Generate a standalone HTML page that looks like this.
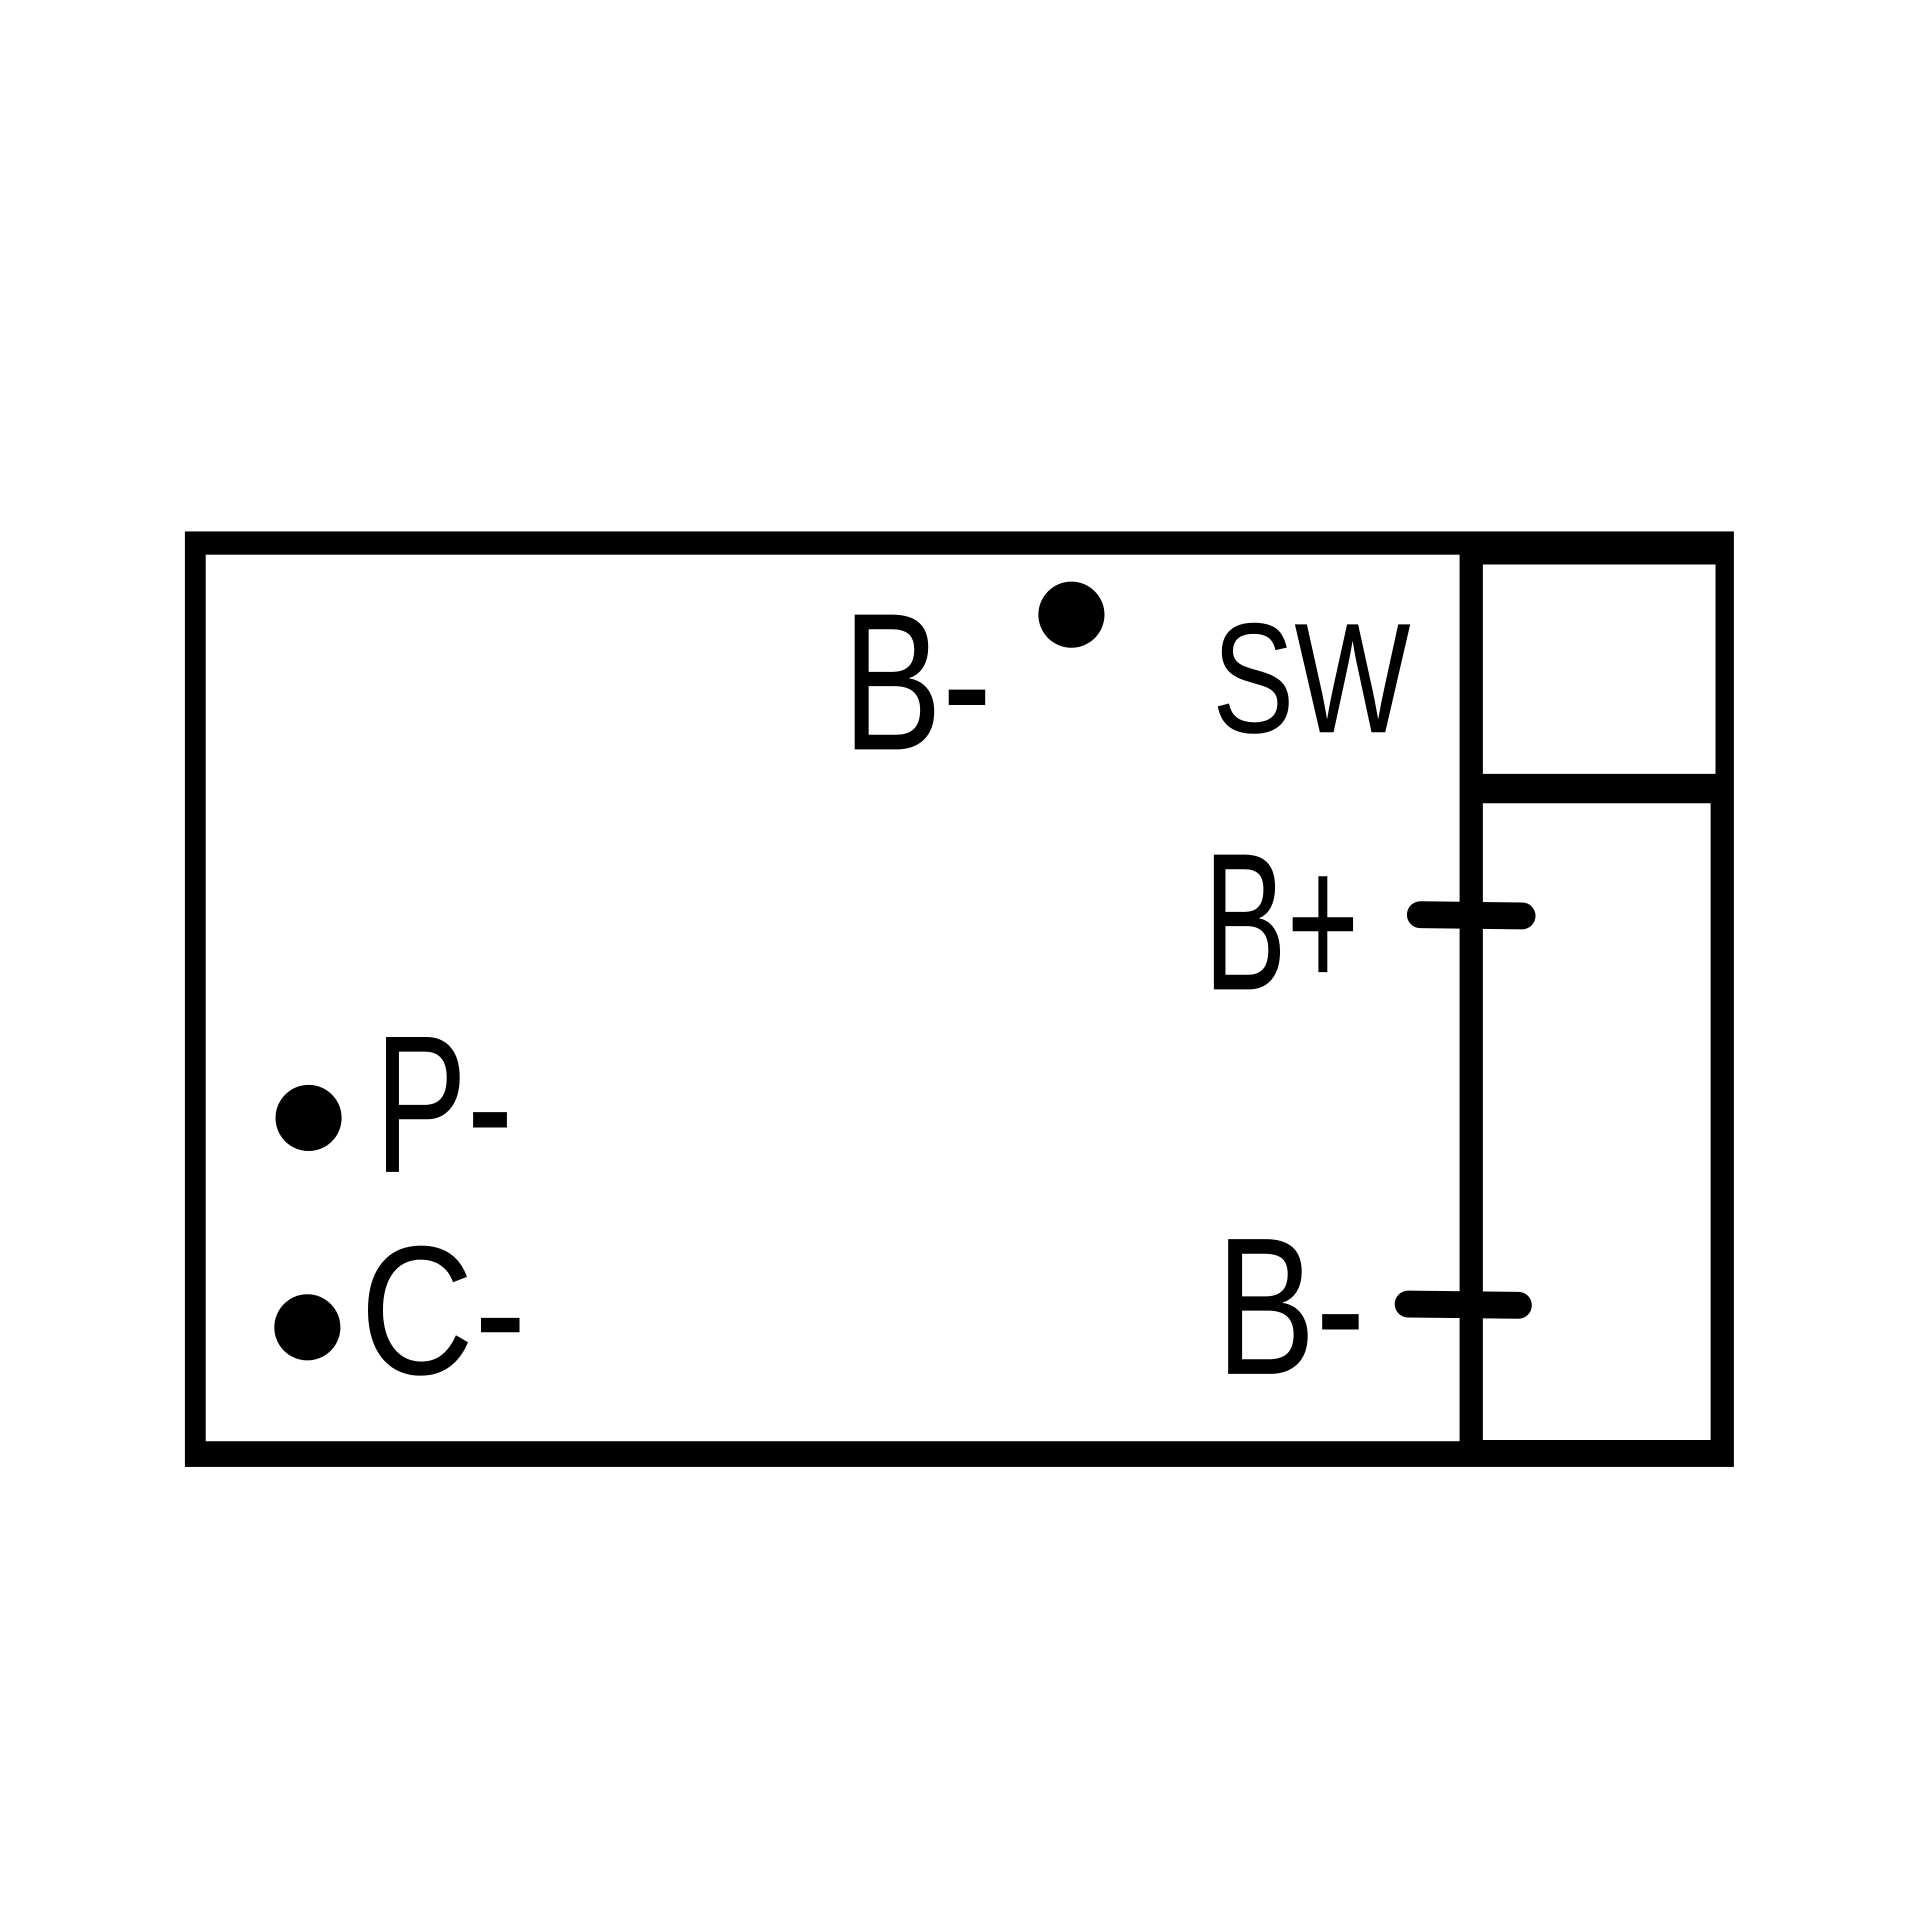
<!DOCTYPE html>
<html><head><meta charset="utf-8"><style>
html,body{margin:0;padding:0;background:#fff}
svg{display:block}
text{font-family:"Liberation Sans",sans-serif;fill:#000}
</style></head><body>
<svg width="1920" height="1920" viewBox="0 0 1568 1568" xmlns="http://www.w3.org/2000/svg">
<rect x="0" y="0" width="1568" height="1568" fill="#fff"/>
<!-- outer board -->
<rect x="151" y="434" width="1265" height="764" fill="#000"/>
<rect x="168" y="453" width="1024" height="724" fill="#fff"/>
<rect x="1211" y="461" width="190" height="171" fill="#fff"/>
<rect x="1211" y="656" width="186" height="520" fill="#fff"/>
<!-- dots -->
<circle cx="875" cy="502" r="27" fill="#000"/>
<circle cx="252" cy="913" r="27" fill="#000"/>
<circle cx="251" cy="1084" r="27" fill="#000"/>
<!-- pins -->
<line x1="1160" y1="747" x2="1243" y2="748" stroke="#000" stroke-width="22" stroke-linecap="round"/>
<line x1="1150" y1="1065" x2="1240" y2="1066" stroke="#000" stroke-width="22" stroke-linecap="round"/>
<!-- labels -->
<text x="688" y="612" font-size="160" textLength="122" lengthAdjust="spacingAndGlyphs">B-</text>
<text x="990" y="598" font-size="128" textLength="162" lengthAdjust="spacingAndGlyphs">SW</text>
<text x="983" y="808" font-size="160" textLength="127" lengthAdjust="spacingAndGlyphs">B+</text>
<text x="306" y="957" font-size="160" textLength="113" lengthAdjust="spacingAndGlyphs">P-</text>
<text x="294" y="1122" font-size="150" textLength="136" lengthAdjust="spacingAndGlyphs">C-</text>
<text x="993" y="1122" font-size="160" textLength="122" lengthAdjust="spacingAndGlyphs">B-</text>
</svg>
</body></html>
